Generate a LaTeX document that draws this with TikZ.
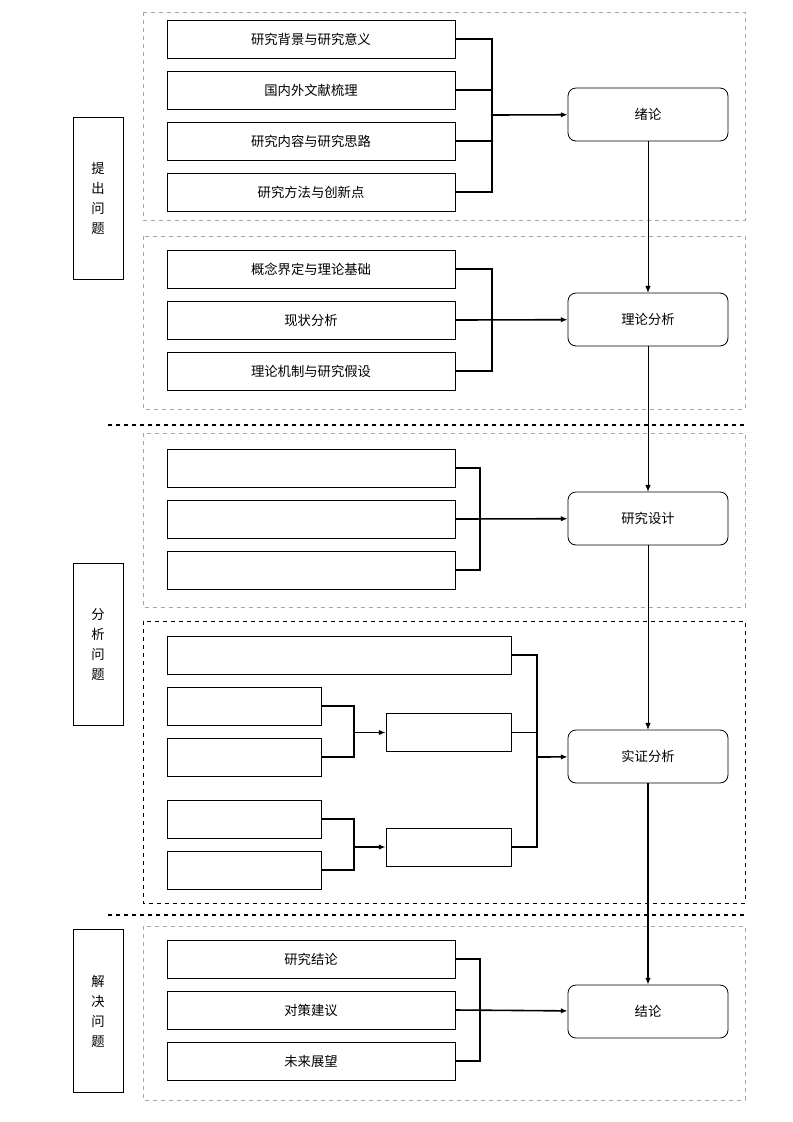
\documentclass[tikz,border=0pt]{standalone}
\usepackage{fontspec}
\newfontfamily\cjk{Noto Sans CJK SC}
\usetikzlibrary{arrows.meta}
\tikzset{
  item/.style={draw,semithick,minimum height=28.5pt,inner sep=0pt,font=\cjk\fontsize{10}{12}\selectfont},
  stage/.style={draw,semithick,rounded corners=6pt,minimum width=120pt,minimum height=39.75pt,font=\cjk\fontsize{10}{12}\selectfont},
  side/.style={draw,semithick,minimum width=37.5pt,minimum height=122pt,align=center,font=\cjk\fontsize{10}{15}\selectfont},
  panel/.style={draw=gray!70,dashed},
  brace/.style={line width=1.2pt},
  flow/.style={-{Latex[length=5pt,width=4pt]}},
}
\begin{document}
\begin{tikzpicture}[x=0.75pt,y=-0.75pt]
  \useasboundingbox (0,0) rectangle (793,1122);
  % panels
  \draw[panel] (143,12) rectangle (745,220);
  \draw[panel] (143,236) rectangle (745,409);
  \draw[panel] (143,433) rectangle (745,607);
  \draw[dashed] (143,621) rectangle (745,903);
  \draw[panel] (143,926) rectangle (745,1100);
  \draw[dashed,thick] (108,425) -- (745,425);
  \draw[dashed,thick] (108,915) -- (745,915);
  % side labels
  \node[side] (s1) at (98,198.5) {提\\出\\问\\题};
  \node[side] (s2) at (98,644.5) {分\\析\\问\\题};
  \node[side] (s3) at (98,1011) {解\\决\\问\\题};
  % stages
  \node[stage] (intro) at (648,114.5) {绪论};
  \node[stage] (theory) at (648,319.5) {理论分析};
  \node[stage] (design) at (648,518.5) {研究设计};
  \node[stage] (empir) at (648,756.5) {实证分析};
  \node[stage] (concl) at (648,1011.5) {结论};
  % panel 1
  \foreach \n/\y/\t in {a1/39/研究背景与研究意义,a2/90/国内外文献梳理,a3/141/研究内容与研究思路,a4/192/研究方法与创新点}
    \node[item,minimum width=216pt] (\n) at (311,\y) {\t};
  \coordinate (ja) at (492,115);
  \draw[brace] (a1.east) -| (492,192) -- (a4.east);
  \draw[brace] (a2.east) -- (492,90) (a3.east) -- (492,141);
  \draw[brace,flow] (ja) -- (intro);
  % panel 2
  \foreach \n/\y/\t in {b1/269/概念界定与理论基础,b2/320/现状分析,b3/371/理论机制与研究假设}
    \node[item,minimum width=216pt] (\n) at (311,\y) {\t};
  \draw[brace] (b1.east) -| (492,371) -- (b3.east);
  \draw[brace,flow] (b2.east) -- (theory);
  % panel 3
  \foreach \n/\y in {c1/468,c2/519,c3/570}
    \node[item,minimum width=216pt] (\n) at (311,\y) {};
  \draw[brace] (c1.east) -| (480,570) -- (c3.east);
  \draw[brace,flow] (c2.east) -- (design);
  % panel 4
  \node[item,minimum width=258pt] (d0) at (339,655) {};
  \foreach \n/\y in {d1/706,d2/757,d3/819,d4/870}
    \node[item,minimum width=115.5pt] (\n) at (244,\y) {};
  \node[item,minimum width=93.75pt] (e1) at (448.5,732.5) {};
  \node[item,minimum width=93.75pt] (e2) at (448.5,847) {};
  \draw[brace] (d1.east) -| (354,757) -- (d2.east);
  \draw[brace,flow] (354,732.5) -- (e1);
  \draw[brace] (d3.east) -| (354,870) -- (d4.east);
  \draw[brace,flow] (354,847) -- (e2);
  \draw[brace] (d0.east) -| (537,847) -- (e2.east);
  \draw[brace] (e1.east) -- (537,732.5);
  \draw[brace,flow] (537,757) -- (empir);
  % panel 5
  \foreach \n/\y/\t in {f1/959/研究结论,f2/1010/对策建议,f3/1061/未来展望}
    \node[item,minimum width=216pt] (\n) at (311,\y) {\t};
  \draw[brace] (f1.east) -| (480,1061) -- (f3.east);
  \draw[brace,flow] (f2.east) -- (concl);
  % main flow
  \draw[flow] (intro) -- (theory);
  \draw[flow] (theory) -- (design);
  \draw[flow] (design) -- (empir);
  \draw[flow,line width=1.2pt] (empir) -- (concl);
\end{tikzpicture}
\end{document}
